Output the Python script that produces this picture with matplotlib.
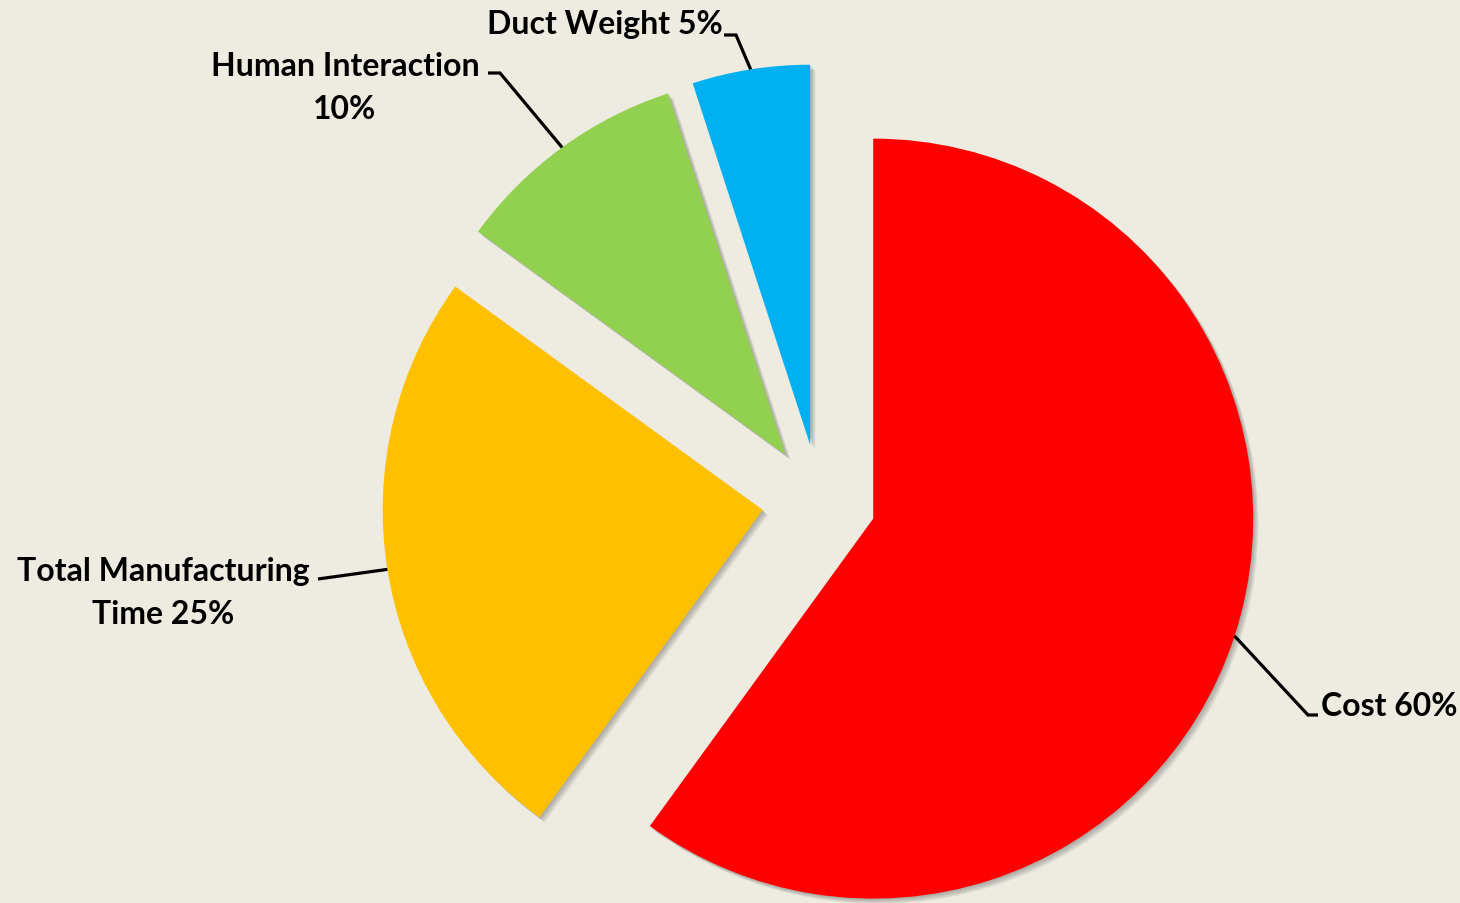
import numpy as np
import matplotlib.pyplot as plt

# chart data
categories = ["Cost", "Total Manufacturing\nTime", "Human Interaction", "Duct Weight"]
shares = [60, 25, 10, 5]
colors = ["#FF0000", "#FFC000", "#92D050", "#00B0F0"]
explode = [0.15, 0.15, 0.15, 0.15]

BG = "#EEECE1"
W, H = 1460, 904
CX, CY, R = 819, 502, 380  # pie centre / radius in pixels


def px(x, y):
    # pixel position (from top-left) -> data units (pie radius = 1)
    return (x - CX) / R, (CY - y) / R


fig = plt.figure(figsize=(W / 100, H / 100), dpi=100, facecolor=BG)
ax = fig.add_axes([0, 0, 1, 1])
ax.set_facecolor(BG)

# soft drop shadow: a few faint grey copies nudged down-right
for d in np.linspace(0.003, 0.014, 5):
    ax.pie(shares, explode=explode, startangle=90, counterclock=False,
           colors=["#5a5a5a"] * 4, center=(d, -d),
           wedgeprops=dict(linewidth=0, alpha=0.1))

wedges, _ = ax.pie(shares, explode=explode, startangle=90, counterclock=False,
                   colors=colors, wedgeprops=dict(linewidth=0))

x0, y0 = px(0, H)
x1, y1 = px(W, 0)
ax.set_xlim(x0, x1)
ax.set_ylim(y0, y1)
ax.set_aspect("equal", adjustable="box")
ax.axis("off")

font = dict(family=["Lato", "DejaVu Sans"], fontweight="bold", fontsize=23,
            color="black")

# label text placement (pixels) and leader elbow / end points
labels = [
    dict(text=f"Cost {shares[0]}%", pos=(1321, 707), ha="left",
         elbow=(1308, 716), end=(1318, 716)),
    dict(text=f"Total Manufacturing\nTime {shares[1]}%", pos=(163, 593), ha="center",
         elbow=(318, 580), end=(318, 580)),
    dict(text=f"Human Interaction\n{shares[2]}%", pos=(345, 88), ha="center",
         elbow=(500, 74), end=(488, 74)),
    dict(text=f"Duct Weight {shares[3]}%", pos=(605, 24), ha="center",
         elbow=(736, 36), end=(724, 36)),
]

for w, lab in zip(wedges, labels):
    # leader starts at the middle of the wedge arc
    mid = np.deg2rad((w.theta1 + w.theta2) / 2)
    cx, cy = w.center
    sx, sy = cx + w.r * np.cos(mid), cy + w.r * np.sin(mid)
    ex, ey = px(*lab["elbow"])
    fx, fy = px(*lab["end"])
    ax.plot([sx, ex, fx], [sy, ey, fy], color="black", lw=2.3,
            solid_capstyle="butt", solid_joinstyle="miter")
    tx, ty = px(*lab["pos"])
    ax.text(tx, ty, lab["text"], ha=lab["ha"], va="center", linespacing=1.55,
            **font)

fig.savefig("out.png", dpi=100, facecolor=BG)
